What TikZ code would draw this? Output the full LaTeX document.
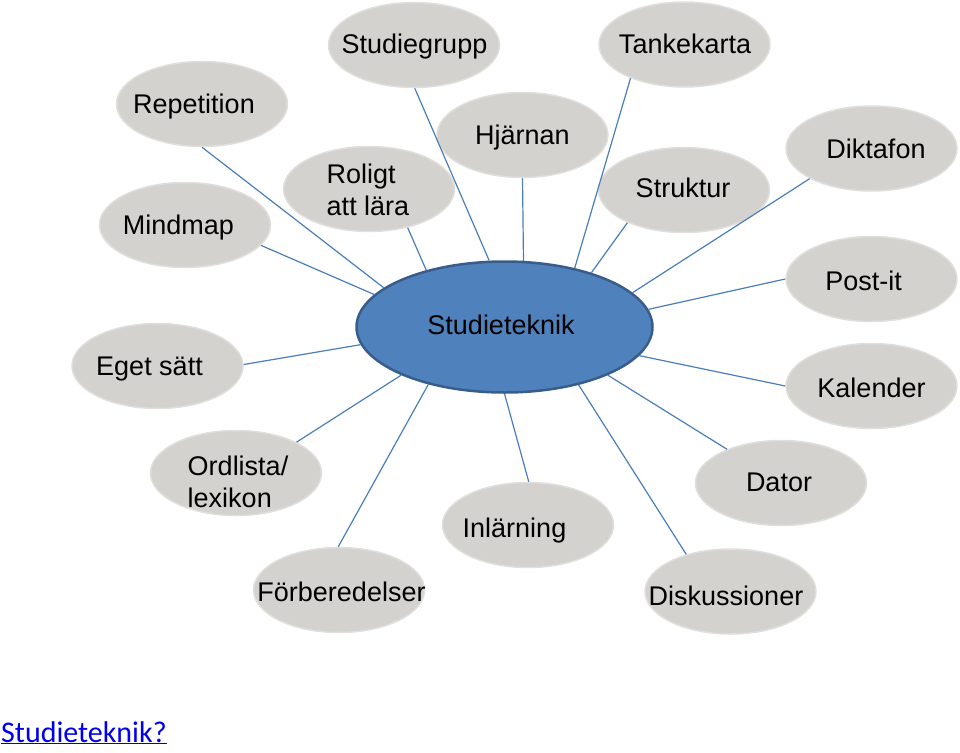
\documentclass[tikz,border=0pt]{standalone}
\usepackage{fontspec}
\setmainfont{Liberation Sans}
\newfontfamily\linkfont{Carlito}
\usetikzlibrary{shapes.geometric}
\definecolor{bubfill}{RGB}{211,210,206}
\definecolor{bubrim}{RGB}{224,223,220}
\definecolor{hubfill}{RGB}{79,129,189}
\definecolor{hubrim}{RGB}{56,93,138}
\definecolor{spokecol}{RGB}{74,126,187}
\definecolor{linkblue}{RGB}{0,0,238}
\begin{document}
\begin{tikzpicture}[x=1pt,y=-1pt,
  bub/.style={ellipse, fill=bubfill, draw=bubrim, line width=1.5pt, minimum width=171pt, minimum height=85pt, inner sep=0pt},
  hub/.style={ellipse, fill=hubfill, draw=hubrim, line width=2.5pt, minimum width=296pt, minimum height=131pt, inner sep=0pt},
  lbl/.style={inner sep=0pt, font=\fontsize{27}{32}\selectfont, text height=19.5pt, text depth=5.5pt, yshift=-2pt},
  lbltwo/.style={inner sep=0pt, font=\fontsize{27}{32}\selectfont, align=left, yshift=-1pt},
  spoke/.style={draw=spokecol, line width=1.2pt}]
\useasboundingbox (0,0) rectangle (960,752);
% ellipses
\node[hub] (hub) at (504.5,327) {};
\node[bub] (sgr) at (414,45) {};
\node[bub] (tan) at (684.5,44.5) {};
\node[bub] (rep) at (202,104) {};
\node[bub] (rol) at (369,189) {};
\node[bub] (hja) at (522.5,135) {};
\node[bub] (str) at (684,190) {};
\node[bub] (dik) at (871.5,148.5) {};
\node[bub] (min) at (185,225) {};
\node[bub] (pos) at (871.5,279) {};
\node[bub] (ege) at (157.5,366) {};
\node[bub] (kal) at (871.5,386) {};
\node[bub] (ord) at (236,473) {};
\node[bub] (dat) at (781,483) {};
\node[bub] (inl) at (528,525) {};
\node[bub] (for) at (339,590) {};
\node[bub] (dis) at (730.5,591.5) {};
% spokes
\draw[spoke] (rep.-90) -- (hub.162);
\draw[spoke] (min.-15) -- (hub.166);
\draw[spoke] (rol.-45) -- (hub.144);
\draw[spoke] (sgr.-89) -- (hub.103);
\draw[spoke] (hja.-90) -- (hub.74);
\draw[spoke] (tan.-148) -- (hub.40);
\draw[spoke] (str.-150) -- (hub.32);
\draw[spoke] (dik.-154) -- (hub.15);
\draw[spoke] (pos.180) -- (hub.7);
\draw[spoke] (kal.180) -- (hub.-12);
\draw[spoke] (dat.148) -- (hub.-25);
\draw[spoke] (dis.140) -- (hub.-38);
\draw[spoke] (inl.89) -- (hub.-90);
\draw[spoke] (for.91) -- (hub.-143);
\draw[spoke] (ord.27) -- (hub.-155);
\draw[spoke] (ege.1) -- (hub.-173);
% labels
\node[lbl] (tsgr) at (414.5,45) {Studiegrupp};
\node[lbl] (ttan) at (685,44) {Tankekarta};
\node[lbl] (trep) at (194,104) {Repetition};
\node[lbltwo] (trol) at (368,188.5) {Roligt\\att lära};
\node[lbl] (thja) at (522.5,135) {Hjärnan};
\node[lbl] (tstr) at (683,188) {Struktur};
\node[lbl] (tdik) at (876,149) {Diktafon};
\node[lbl] (tmin) at (178.5,225) {Mindmap};
\node[lbl] (tpos) at (863.5,281) {Post-it};
\node[lbl] (tege) at (149.5,366) {Eget sätt};
\node[lbl] (tkal) at (871.5,388) {Kalender};
\node[lbltwo] (tord) at (238,480.5) {Ordlista/\\lexikon};
\node[lbl] (tdat) at (779,482) {Dator};
\node[lbl] (tinl) at (514.5,528) {Inlärning};
\node[lbl] (tfor) at (341.5,592) {Förberedelser};
\node[lbl] (tdis) at (726,596) {Diskussioner};
\node[lbl] (thub) at (501,325) {Studieteknik};
\node[anchor=base west, inner sep=0pt, text=linkblue, font=\linkfont\fontsize{30}{35}\selectfont] (link) at (1,742) {\underline{Studieteknik?}};
\end{tikzpicture}
\end{document}
